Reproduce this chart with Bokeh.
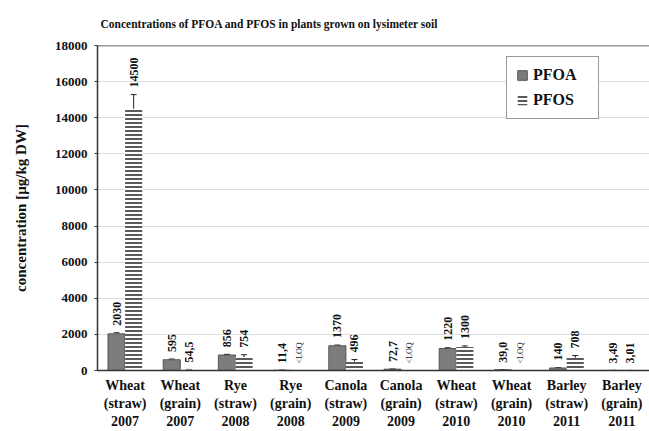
import numpy as np
from bokeh.plotting import figure
from bokeh.models import (ColumnDataSource, Whisker, TeeHead, Span, Legend, LegendItem,
                          Range1d, FixedTicker, Title)
from bokeh.core.properties import value
from bokeh.embed import file_html
from bokeh.resources import INLINE

# Plant samples (crop, plant part, harvest year)
crops = ["Wheat", "Wheat", "Rye", "Rye", "Canola", "Canola", "Wheat", "Wheat", "Barley", "Barley"]
parts = ["straw", "grain", "straw", "grain", "straw", "grain", "straw", "grain", "straw", "grain"]
years = ["2007", "2007", "2008", "2008", "2009", "2009", "2010", "2010", "2011", "2011"]

# Concentrations in µg/kg DW (None = below limit of quantification)
pfoa = [2030, 595, 856, 11.4, 1370, 72.7, 1220, 39.0, 140, 3.49]
pfos = [14500, 54.5, 754, None, 496, None, 1300, None, 708, 3.01]

# Standard deviations
pfoa_sd = [60, 40, 40, 0, 40, 5, 40, 3, 20, 0]
pfos_sd = [780, 5, 120, 0, 110, 0, 60, 0, 120, 0]

SERIF = "Liberation Serif"
BAR_W = 0.31


def fmt(v):
    if v is None:
        return "<LOQ"
    if v >= 100:
        s = f"{v:.0f}"
    elif v >= 10:
        s = f"{v:.1f}"
    else:
        s = f"{v:.2f}"
    return s.replace(".", ",")


idx = np.arange(len(crops))
pfos_val = [0 if v is None else v for v in pfos]

src = ColumnDataSource(dict(
    xa=idx - BAR_W / 2,
    xb=idx + BAR_W / 2,
    pfoa=pfoa,
    pfos=pfos_val,
    pfoa_lo=[v - e for v, e in zip(pfoa, pfoa_sd)],
    pfoa_hi=[v + e for v, e in zip(pfoa, pfoa_sd)],
    pfos_lo=[v - e for v, e in zip(pfos_val, pfos_sd)],
    pfos_hi=[v + e for v, e in zip(pfos_val, pfos_sd)],
))

p = figure(width=649, height=431, output_backend="svg", toolbar_location=None,
           x_range=Range1d(-0.5, len(crops) - 0.5), y_range=Range1d(0, 18000),
           min_border_left=97, min_border_right=0, min_border_top=43, min_border_bottom=0)

p.add_layout(Title(text="Concentrations of PFOA and PFOS in plants grown on lysimeter soil",
                   align="left", offset=3, text_font=SERIF, text_font_style="bold",
                   text_font_size="11.5px", text_color="#111111", standoff=31), "above")

p.outline_line_color = None
p.background_fill_color = "white"
p.border_fill_color = "white"

# frame top edge
p.add_layout(Span(location=18000, dimension="width", line_color="#333333", line_width=1.5))

# y axis
p.yaxis.ticker = FixedTicker(ticks=list(range(0, 18001, 2000)))
p.yaxis.axis_label = "concentration [µg/kg DW]"
p.yaxis.axis_label_text_font = SERIF
p.yaxis.axis_label_text_font_style = "bold"
p.yaxis.axis_label_text_font_size = "15px"
p.yaxis.axis_label_text_color = "#111111"
p.yaxis.axis_label_standoff = 23
p.yaxis.major_label_text_font = SERIF
p.yaxis.major_label_text_font_style = "bold"
p.yaxis.major_label_text_font_size = "13px"
p.yaxis.major_label_text_color = "#111111"
p.yaxis.major_label_standoff = 7
p.yaxis.major_tick_out = 3
p.yaxis.major_tick_in = 0
p.yaxis.minor_tick_line_color = None
p.yaxis.axis_line_color = "#333333"
p.yaxis.axis_line_width = 1.5
p.yaxis.major_tick_line_color = "#333333"

# x axis with three-line category labels
p.xaxis.ticker = FixedTicker(ticks=list(idx))
p.xaxis.major_label_overrides = {int(i): f"{c}\n({pt})\n{y}" for i, c, pt, y in zip(idx, crops, parts, years)}
p.xaxis.major_label_text_font = SERIF
p.xaxis.major_label_text_font_style = "bold"
p.xaxis.major_label_text_font_size = "14px"
p.xaxis.major_label_text_color = "#111111"
p.xaxis.major_label_standoff = 1
p.xaxis.major_tick_line_color = None
p.xaxis.minor_tick_line_color = None
p.xaxis.axis_line_color = "#333333"
p.xaxis.axis_line_width = 1.5

p.xgrid.grid_line_color = None
p.ygrid.grid_line_color = "#dedede"
p.ygrid.grid_line_width = 1

r_pfoa = p.vbar(x="xa", top="pfoa", width=BAR_W, source=src,
                fill_color="#7c7c7c", line_color="#555555", line_width=1)
r_pfos = p.vbar(x="xb", top="pfos", width=BAR_W, source=src,
                fill_color="white", line_color=None,
                hatch_pattern="horizontal_line", hatch_scale=4, hatch_weight=1.5,
                hatch_color="#222222")

for lo, hi, x in (("pfoa_lo", "pfoa_hi", "xa"), ("pfos_lo", "pfos_hi", "xb")):
    w = Whisker(base=x, lower=lo, upper=hi, source=src, line_color="#222222", line_width=1,
                upper_head=TeeHead(size=6, line_color="#222222"),
                lower_head=TeeHead(size=6, line_color="#222222"))
    p.add_layout(w)

# value labels above the bars
lab = ColumnDataSource(dict(
    x=list(idx - BAR_W / 2) + list(idx + BAR_W / 2),
    y=[v + e for v, e in zip(pfoa, pfoa_sd)] + [v + e for v, e in zip(pfos_val, pfos_sd)],
    t=[fmt(v) for v in pfoa] + [fmt(v) for v in pfos],
    size=["12px"] * len(pfoa) + ["8px" if v is None else "12px" for v in pfos],
    style=["bold"] * len(pfoa) + ["normal" if v is None else "bold" for v in pfos],
))
p.text(x="x", y="y", text="t", source=lab, angle=np.pi / 2, text_align="left",
       text_baseline="middle", y_offset=-7, text_font=value(SERIF),
       text_font_size="size", text_font_style="style", text_color="#111111")

legend = Legend(items=[LegendItem(label="PFOA", renderers=[r_pfoa]),
                       LegendItem(label="PFOS", renderers=[r_pfos])],
                location=(409, 251), padding=9, spacing=7, glyph_width=12, glyph_height=12,
                label_standoff=5, label_width=56, margin=0,
                label_text_font=SERIF, label_text_font_style="bold", label_text_font_size="16px",
                label_text_color="#111111", border_line_color="#333333", border_line_width=1.2,
                background_fill_color="white", background_fill_alpha=1)
p.add_layout(legend)

open("out.html", "w").write(file_html(p, INLINE))
